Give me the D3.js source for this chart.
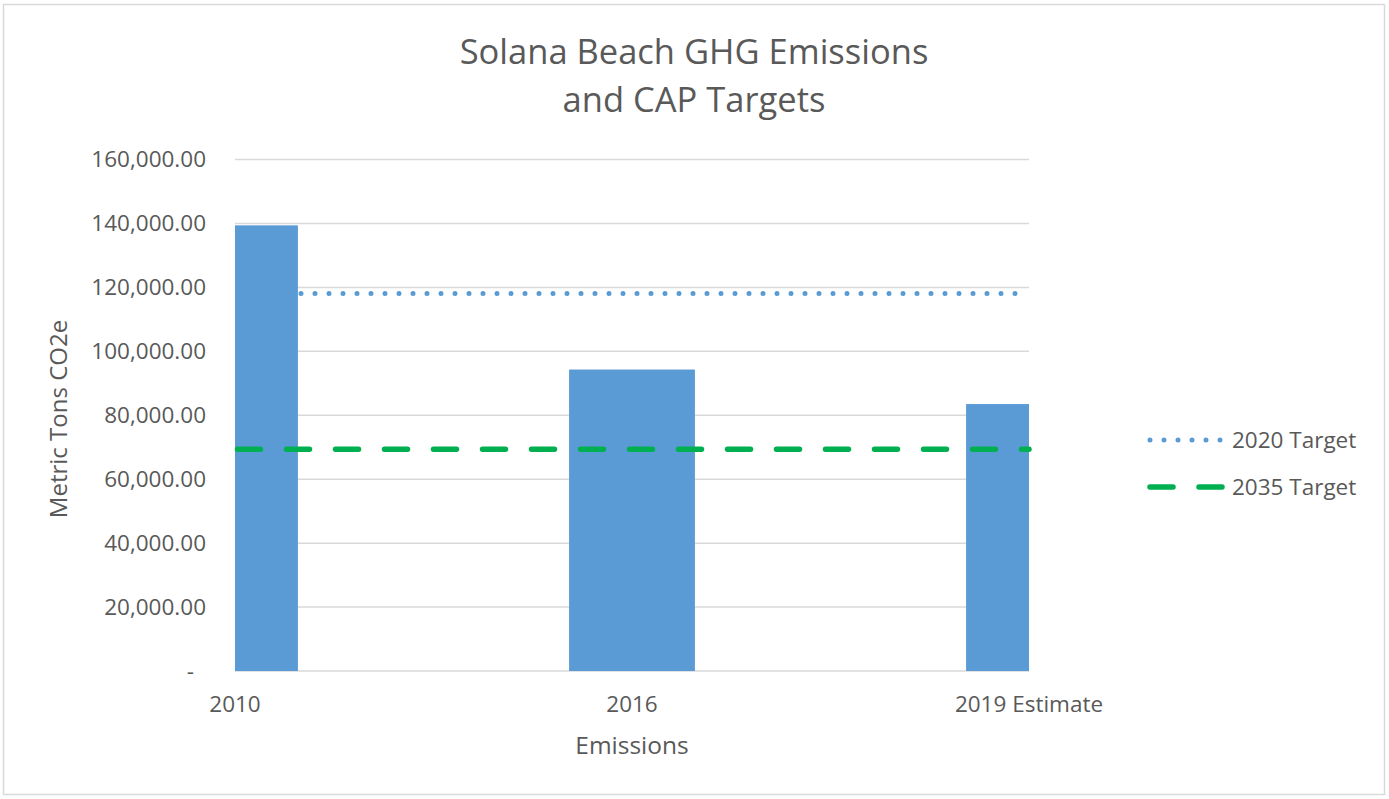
<!DOCTYPE html>
<html>
<head>
<meta charset="utf-8">
<script src="https://cdn.jsdelivr.net/npm/d3@7"></script>
<style>
  body { margin: 0; background: #fff; }
  text { font-family: 'Open Sans', 'Noto Sans', sans-serif; fill: #595959; }
</style>
</head>
<body>
<svg id="chart" width="1389" height="799"></svg>
<script>
const categories = ['2010', '2016', '2019 Estimate']
const emissions = [139400, 94300, 83500]
const target2020 = [118100, 118100, 118100]
const target2035 = [69400, 69400, 69400]
const yTicks = [0, 20000, 40000, 60000, 80000, 100000, 120000, 140000, 160000]
const legendLabels = ['2020 Target', '2035 Target']

const width = 1389
const height = 799
const margin = { top: 159.5, right: 360, bottom: 128, left: 235 }

const svg = d3.select('#chart')

/* chart border */
svg.append('rect')
  .attr('x', 3.5).attr('y', 4.5)
  .attr('width', 1381).attr('height', 790)
  .attr('fill', '#fff')
  .attr('stroke', '#d9d9d9')
  .attr('stroke-width', 1.5)

const xScale = d3.scalePoint()
  .domain(categories)
  .range([margin.left, width - margin.right])
  .padding(0)

const yScale = d3.scaleLinear()
  .domain([0, 160000])
  .range([height - margin.bottom, margin.top])

const barWidth = xScale.step() * 0.317

/* gridlines */
svg.append('g')
  .selectAll('line')
  .data(yTicks)
  .join('line')
  .attr('x1', margin.left)
  .attr('x2', width - margin.right)
  .attr('y1', (d) => yScale(d))
  .attr('y2', (d) => yScale(d))
  .attr('stroke', '#d9d9d9')
  .attr('stroke-width', 1.5)

/* y labels */
svg.append('g')
  .selectAll('text')
  .data(yTicks)
  .join('text')
  .attr('x', (d) => (d === 0 ? 194 : 206))
  .attr('y', (d) => yScale(d))
  .attr('dy', '0.35em')
  .attr('text-anchor', 'end')
  .attr('font-size', 22.5)
  .text((d) => (d === 0 ? '-' : d3.format(',.2f')(d)))

/* bars, clipped to the plot area */
svg.append('clipPath')
  .attr('id', 'plot-clip')
  .append('rect')
  .attr('x', margin.left)
  .attr('y', 0)
  .attr('width', width - margin.right - margin.left)
  .attr('height', height)

svg.append('g')
  .attr('clip-path', 'url(#plot-clip)')
  .selectAll('rect')
  .data(emissions)
  .join('rect')
  .attr('x', (d, i) => xScale(categories[i]) - barWidth / 2)
  .attr('y', (d) => yScale(d))
  .attr('width', barWidth)
  .attr('height', (d) => yScale(0) - yScale(d))
  .attr('fill', '#5b9bd5')

/* target lines */
const line = d3.line()
  .x((d, i) => xScale(categories[i]))
  .y((d) => yScale(d))

svg.append('path')
  .datum(target2020)
  .attr('d', line)
  .attr('fill', 'none')
  .attr('stroke', '#5b9bd5')
  .attr('stroke-width', 5)
  .attr('stroke-linecap', 'round')
  .attr('stroke-dasharray', '0,14')
  .attr('stroke-dashoffset', -10)

svg.append('path')
  .datum(target2035)
  .attr('d', line)
  .attr('fill', 'none')
  .attr('stroke', '#00b050')
  .attr('stroke-width', 5.5)
  .attr('stroke-linecap', 'round')
  .attr('stroke-dasharray', '23,26')
  .attr('stroke-dashoffset', -2.5)

/* x labels */
svg.append('g')
  .selectAll('text')
  .data(categories)
  .join('text')
  .attr('x', (d) => xScale(d))
  .attr('y', 712)
  .attr('text-anchor', 'middle')
  .attr('font-size', 22.5)
  .text((d) => d)

/* axis titles */
svg.append('text')
  .attr('x', 632)
  .attr('y', 754)
  .attr('text-anchor', 'middle')
  .attr('font-size', 24.5)
  .text('Emissions')

svg.append('text')
  .attr('transform', 'translate(67, 419) rotate(-90)')
  .attr('text-anchor', 'middle')
  .attr('font-size', 24)
  .text('Metric Tons CO2e')

/* title */
const title = svg.append('text')
  .attr('text-anchor', 'middle')
  .attr('font-size', 34.5)
title.append('tspan').attr('x', 694).attr('y', 64).text('Solana Beach GHG Emissions')
title.append('tspan').attr('x', 694).attr('y', 112).text('and CAP Targets')

/* legend */
const legend = svg.append('g')
const legendY = [440, 487]
legend.append('line')
  .attr('x1', 1150).attr('x2', 1222)
  .attr('y1', legendY[0]).attr('y2', legendY[0])
  .attr('stroke', '#5b9bd5')
  .attr('stroke-width', 5)
  .attr('stroke-linecap', 'round')
  .attr('stroke-dasharray', '0,14')
legend.append('line')
  .attr('x1', 1150).attr('x2', 1222)
  .attr('y1', legendY[1]).attr('y2', legendY[1])
  .attr('stroke', '#00b050')
  .attr('stroke-width', 5.5)
  .attr('stroke-linecap', 'round')
  .attr('stroke-dasharray', '23,26')
legend.selectAll('text')
  .data(legendLabels)
  .join('text')
  .attr('x', 1232)
  .attr('y', (d, i) => legendY[i])
  .attr('dy', '0.35em')
  .attr('font-size', 22.5)
  .text((d) => d)
</script>
</body>
</html>
